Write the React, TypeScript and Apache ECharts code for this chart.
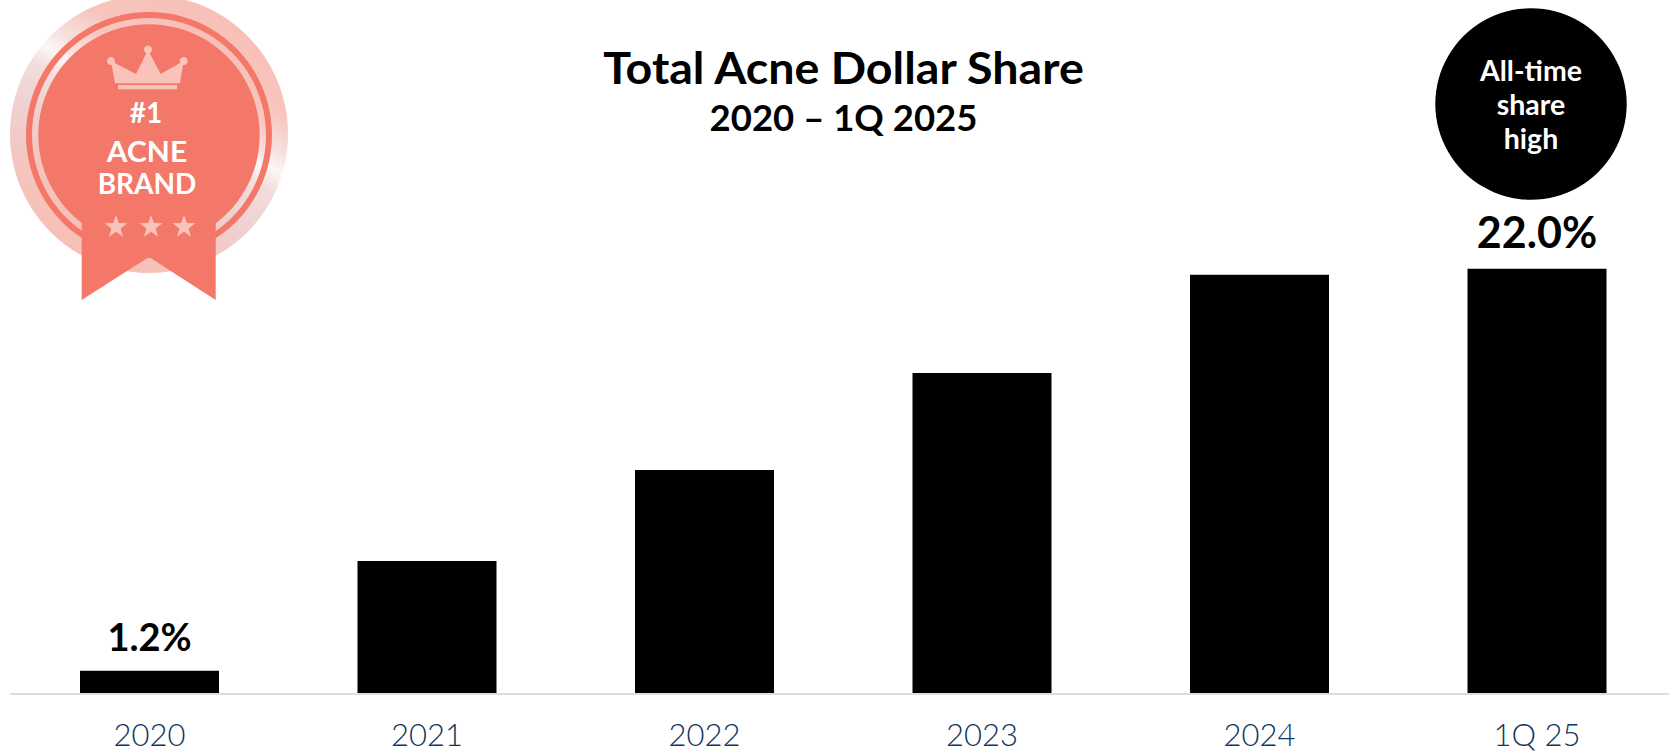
import React, { useEffect, useRef } from "react";
import * as echarts from "echarts";

const categories = ["2020", "2021", "2022", "2023", "2024", "1Q 25"];
const shareValues = [1.2, 6.88, 11.59, 16.6, 21.69, 22.0];
const labelSizes: Record<string, number> = { "2020": 38, "1Q 25": 43 };
const titleLines = ["Total Acne Dollar Share", "2020 – 1Q 2025"];
const calloutLines = ["All-time", "share", "high"];
const badgeLines = ["#1", "ACNE", "BRAND"];

const FONT = "Lato, 'Open Sans', sans-serif";
const CORAL = "#F47869";
const PINK = "#F9C3BA";

const starPoints = (cx: number, cy: number, r: number) => {
  const pts: number[][] = [];
  for (let i = 0; i < 10; i++) {
    const rad = i % 2 === 0 ? r : r * 0.4;
    const a = -Math.PI / 2 + (i * Math.PI) / 5;
    pts.push([cx + rad * Math.cos(a), cy + rad * Math.sin(a)]);
  }
  return pts;
};

const metal = () =>
  new echarts.graphic.LinearGradient(0.77, 0, 0.23, 1, [
    { offset: 0, color: "#F7BDB4" },
    { offset: 0.25, color: "#F7C6BF" },
    { offset: 0.36, color: "#F6E3E0" },
    { offset: 0.41, color: "#FCF7F6" },
    { offset: 0.47, color: "#F3DEDD" },
    { offset: 0.6, color: "#EED2D2" },
    { offset: 0.8, color: "#F5C4BC" },
    { offset: 1, color: "#F7BDB4" },
  ]);

const text = (t: string, x: number, y: number, size: number, color: string, scaleX = 1) => ({
  type: "text",
  z: 20,
  x,
  y,
  scaleX,
  style: { text: t, x: 0, y: 0, fill: color, font: `700 ${size}px ${FONT}`, textAlign: "center", textVerticalAlign: "middle" },
});

export default function App() {
  const ref = useRef<HTMLDivElement>(null);
  useEffect(() => {
    const chart = echarts.init(ref.current!, null, { renderer: "svg" });
    const cx = 149, cy = 135;
    chart.setOption({
      animation: false,
      backgroundColor: "#fff",
      grid: { left: 10.75, width: 1665, top: 210.7, height: 483.3, containLabel: false, outerBoundsMode: "none" },
      xAxis: {
        type: "category",
        data: categories,
        z: 5,
        axisLine: { show: true, lineStyle: { color: "#DDDDDD", width: 2 } },
        axisTick: { show: false },
        axisLabel: { color: "#0F3560", fontFamily: FONT, fontSize: 31, fontWeight: 300, margin: 24 },
      },
      yAxis: { type: "value", min: 0, max: 25, show: false, splitLine: { show: false } },
      series: [
        {
          type: "bar",
          barWidth: 139,
          itemStyle: { color: "#000" },
          data: shareValues.map((v, i) => ({
            value: v,
            label: {
              show: categories[i] in labelSizes,
              position: "top",
              distance: 16,
              formatter: (p: any) => `${Number(p.value).toFixed(1)}%`,
              color: "#000",
              fontFamily: FONT,
              fontWeight: 700,
              fontSize: labelSizes[categories[i]] ?? 38,
            },
          })),
        },
      ],
      graphic: [
        text(titleLines[0], 843.5, 68, 43, "#000", 1.083),
        text(titleLines[1], 843.5, 117, 36.5, "#000"),
        { type: "circle", z: 10, shape: { cx: 1531, cy: 104, r: 95.7 }, style: { fill: "#000" } },
        ...calloutLines.map((t, i) => text(t, 1531, 70 + i * 34, 28.5, "#fff")),
        { type: "circle", z: 10, shape: { cx, cy: 134, r: 139 }, style: { fill: metal() } },
        { type: "circle", z: 11, shape: { cx, cy, r: 123 }, style: { fill: CORAL } },
        { type: "circle", z: 12, shape: { cx, cy, r: 117 }, style: { fill: metal() } },
        { type: "circle", z: 13, shape: { cx, cy, r: 110.7 }, style: { fill: CORAL } },
        {
          type: "polygon",
          z: 14,
          shape: { points: [[81.7, 220], [215.7, 220], [215.7, 300], [149, 257], [81.7, 300]] },
          style: { fill: CORAL },
        },
        {
          type: "polygon",
          z: 15,
          shape: { points: [[115, 83.3], [111, 61], [136, 74], [148, 50], [160.7, 74], [183.7, 61], [180, 83.3]] },
          style: { fill: PINK },
        },
        { type: "circle", z: 15, shape: { cx: 111, cy: 61, r: 4 }, style: { fill: PINK } },
        { type: "circle", z: 15, shape: { cx: 148, cy: 49.5, r: 4 }, style: { fill: PINK } },
        { type: "circle", z: 15, shape: { cx: 183.7, cy: 61, r: 4 }, style: { fill: PINK } },
        { type: "rect", z: 15, shape: { x: 118, y: 85, width: 59, height: 4.3 }, style: { fill: PINK } },
        text(badgeLines[0], 146, 112, 28, "#fff"),
        text(badgeLines[1], 147, 151, 28, "#fff", 1.07),
        text(badgeLines[2], 147, 183, 28, "#fff"),
        ...[116, 151, 184].map((x) => ({
          type: "polygon",
          z: 15,
          shape: { points: starPoints(x, 227, 12) },
          style: { fill: PINK },
        })),
      ],
    });
    return () => chart.dispose();
  }, []);
  return <div ref={ref} style={{ position: "fixed", left: 0, top: 0, width: 1669, height: 751 }} />;
}
